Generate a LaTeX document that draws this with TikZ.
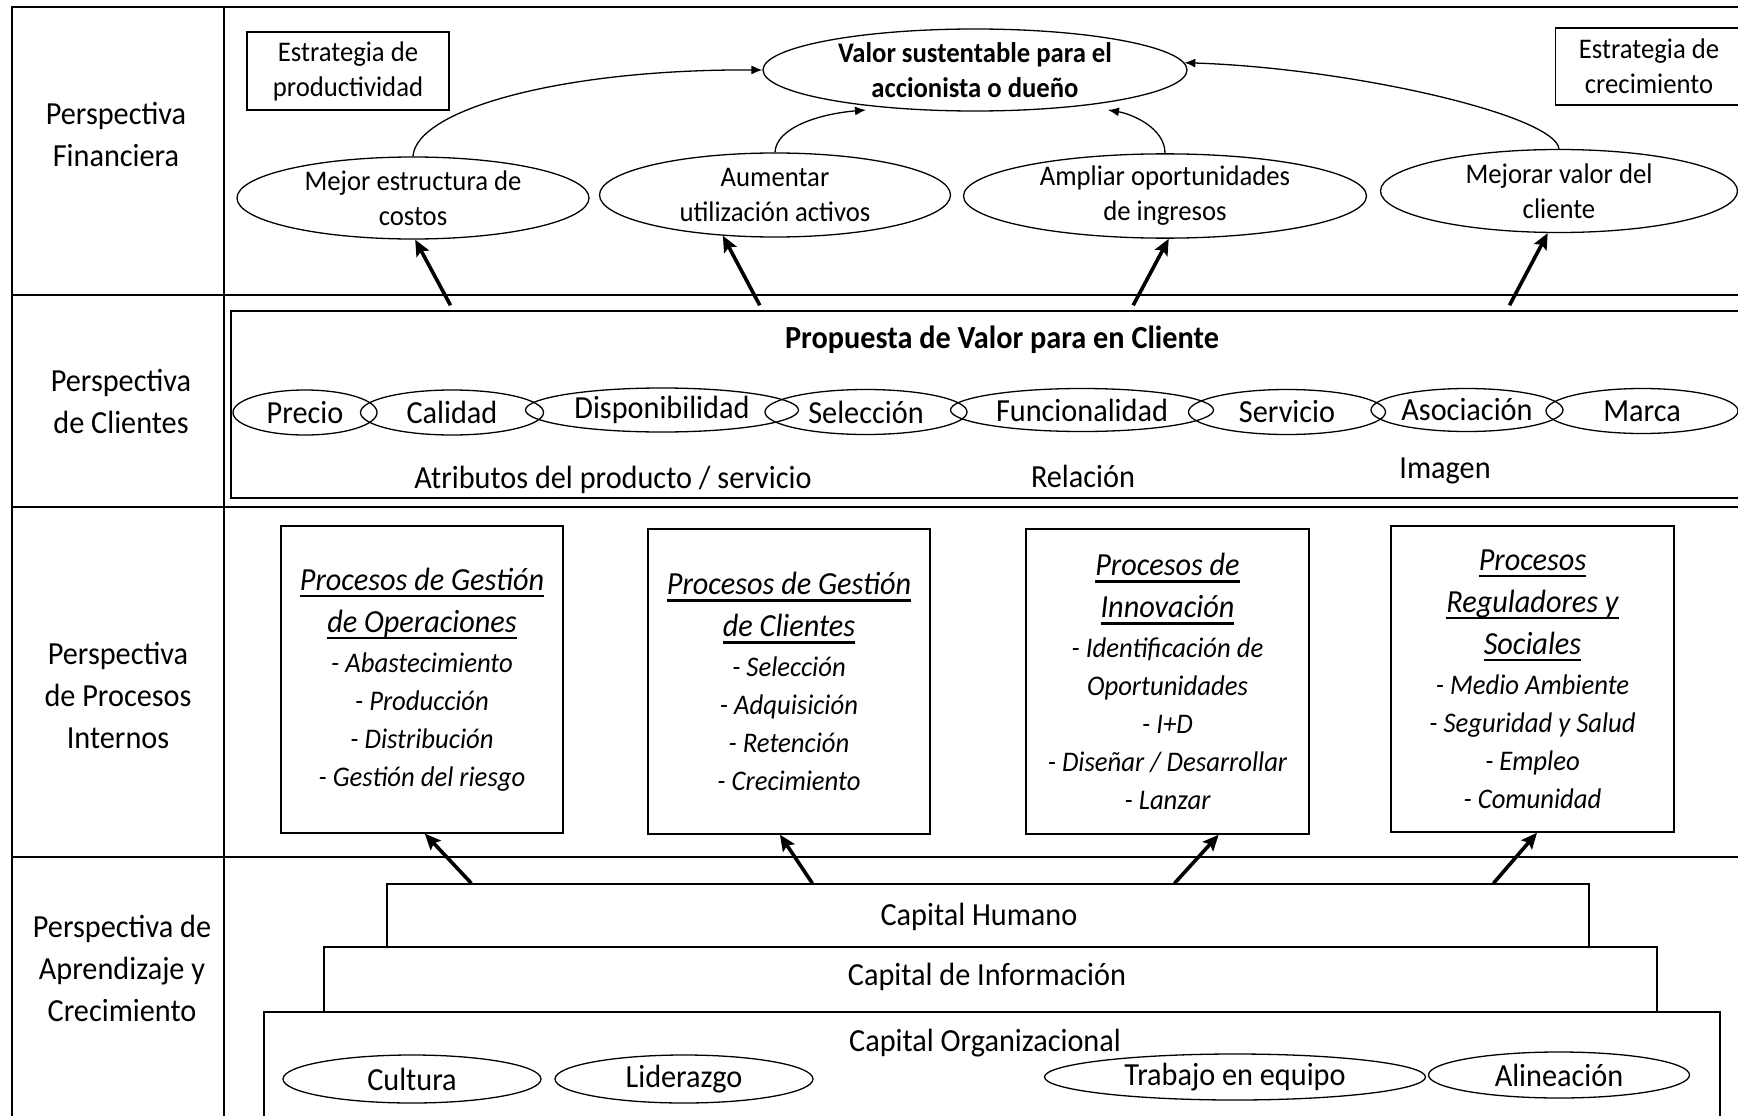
\documentclass[tikz,border=0pt]{standalone}
\usepackage{fontspec}
\setmainfont{Carlito}[FakeStretch=0.94]
\usetikzlibrary{shapes.geometric,arrows.meta,calc}
\newcommand{\fntS}{\fontsize{28.4}{35}\selectfont}
\newcommand{\fntL}{\fontsize{32.2}{42}\selectfont}
\newcommand{\fntI}{\fontsize{28.4}{38}\selectfont\itshape}
\newcommand{\ulx}[1]{{\setbox0\hbox{#1}\rlap{\rule[-7pt]{\wd0}{2.6pt}}\box0}}
\begin{document}
\begin{tikzpicture}[x=1pt,y=-1pt,
  frameline/.style={line width=1.6pt},
  ell/.style={ellipse, draw, line width=1.3pt, inner sep=0pt, align=center},
  bx/.style={rectangle, draw, line width=1.4pt, inner sep=0pt, align=center},
  lbl/.style={align=center, font=\fntL},
  tarr/.style={line width=3.6pt, -{Stealth[length=16pt,width=14pt,inset=3pt]}},
  carr/.style={line width=1.3pt, -{Latex[length=11pt,width=9pt]}},
]
\useasboundingbox (0,0) rectangle (1738,1116);
\clip (0,0) rectangle (1738,1116);
% frame
\draw[frameline] (12,1130) -- (12,7) -- (1750,7);
\draw[frameline] (224,7) -- (224,1130);
\draw[frameline] (12,295) -- (1750,295);
\draw[frameline] (12,507) -- (1750,507);
\draw[frameline] (12,857) -- (1750,857);
% perspective labels
\node[lbl] (pfin) at (116,134) {Perspectiva\\Financiera};
\node[lbl] (pcli) at (121,401) {Perspectiva\\de Clientes};
\node[lbl] (ppro) at (118,695) {Perspectiva\\de Procesos\\Internos};
\node[lbl] (papr) at (122,968) {Perspectiva de\\Aprendizaje y\\Crecimiento};
% financial
\node[bx, font=\fntS, minimum width=202pt, minimum height=78pt] (prod) at (348,71) {Estrategia de\\productividad};
\node[bx, font=\fntS, minimum width=187pt, minimum height=77pt] (crec) at (1649,66.5) {Estrategia de\\crecimiento};
\node[ell, font=\fntS\bfseries, minimum width=424pt, minimum height=82pt] (valor) at (975,70) {Valor sustentable para el\\accionista o dueño};
\node[ell, font=\fntS, minimum width=352pt, minimum height=82pt] (mec) at (413,198) {Mejor estructura de\\costos};
\node[ell, font=\fntS, minimum width=351pt, minimum height=84pt] (aum) at (775,195) {Aumentar\\utilización activos};
\node[ell, font=\fntS, minimum width=403pt, minimum height=83pt] (amp) at (1165,196) {Ampliar oportunidades\\de ingresos};
\node[ell, font=\fntS, minimum width=357pt, minimum height=83pt] (mej) at (1559,191) {Mejorar valor del\\cliente};
\draw[carr] (mec.north) .. controls (416,110) and (560,69) .. (valor.west);
\draw[carr] (aum.north) .. controls (776,128) and (818,114) .. ($(valor.center)+(-109,40)$);
\draw[carr] (amp.north) .. controls (1165,128) and (1132,114) .. ($(valor.center)+(133,40)$);
\draw[carr] (mej.north) .. controls (1555,115) and (1350,68) .. (valor.2);
% clients
\node[bx, minimum width=1514pt, minimum height=187pt] (clbox) at (988,404.5) {};
\node[font=\fntL\bfseries] (prop) at (1002,340) {Propuesta de Valor para en Cliente};
\node[ell, font=\fntL, minimum width=144pt, minimum height=45pt] (e1) at (305,412.5) {Precio};
\node[ell, font=\fntL, minimum width=183pt, minimum height=45pt] (e2) at (452,412.5) {Calidad};
\node[ell, font=\fntL, minimum width=273pt, minimum height=44pt] (e3) at (662,410) {Disponibilidad};
\node[ell, font=\fntL, minimum width=202pt, minimum height=45pt] (e4) at (866,412) {Selección};
\node[ell, font=\fntL, minimum width=263pt, minimum height=43pt] (e5) at (1082,410) {Funcionalidad};
\node[ell, font=\fntL, minimum width=197pt, minimum height=45pt] (e6) at (1287,412) {Servicio};
\node[ell, font=\fntL, minimum width=192pt, minimum height=43pt] (e7) at (1467,410) {Asociación};
\node[ell, font=\fntL, minimum width=192pt, minimum height=45pt] (e8) at (1642,411) {Marca};
\node[font=\fntL] (atr) at (613,480) {Atributos del producto / servicio};
\node[font=\fntL] (rel) at (1083,476) {Relación};
\node[font=\fntL] (img) at (1445,471) {Imagen};
\coordinate (t1) at ($(clbox.north west)!0.1453!(clbox.north east)+(0,-5)$);
\coordinate (t2) at ($(clbox.north west)!0.3494!(clbox.north east)+(0,-5)$);
\coordinate (t3) at ($(clbox.north west)!0.5958!(clbox.north east)+(0,-5)$);
\coordinate (t4) at ($(clbox.north west)!0.8441!(clbox.north east)+(0,-5)$);
\draw[tarr] (t1) -- (mec.273);
\draw[tarr] (t2) -- (aum.218);
\draw[tarr] (t3) -- (amp.275);
\draw[tarr] (t4) -- (mej.255);
% processes
\node[bx, font=\fntI, minimum width=282pt, minimum height=307pt] (b1) at (422,679.5)
  {{\fntL\ulx{Procesos de Gestión}}\\[4pt]{\fntL\ulx{de Operaciones}}\\[2pt]- Abastecimiento\\- Producción\\- Distribución\\- Gestión del riesgo};
\node[bx, font=\fntI, minimum width=282pt, minimum height=305pt] (b2) at (789,681.5)
  {{\fntL\ulx{Procesos de Gestión}}\\[4pt]{\fntL\ulx{de Clientes}}\\[2pt]- Selección\\- Adquisición\\- Retención\\- Crecimiento};
\node[bx, font=\fntI, minimum width=283pt, minimum height=305pt] (b3) at (1167.5,681.5)
  {{\fntL\ulx{Procesos de}}\\[4pt]{\fntL\ulx{Innovación}}\\[2pt]- Identificación de\\Oportunidades\\- I+D\\- Diseñar / Desarrollar\\- Lanzar};
\node[bx, font=\fntI, minimum width=283pt, minimum height=306pt] (b4) at (1532.5,679)
  {{\fntL\ulx{Procesos}}\\[4pt]{\fntL\ulx{Reguladores y}}\\[4pt]{\fntL\ulx{Sociales}}\\[2pt]- Medio Ambiente\\- Seguridad y Salud\\- Empleo\\- Comunidad};
% learning
\node[bx, minimum width=1456pt, minimum height=130pt] (co) at (992,1077) {};
\node[bx, minimum width=1333pt, minimum height=65pt] (ci) at (990.5,979.5) {};
\node[bx, minimum width=1202pt, minimum height=63pt] (ch) at (988,915.5) {};
\node[font=\fntL] (chl) at (979,917) {Capital Humano};
\node[font=\fntL] (cil) at (987,977) {Capital de Información};
\node[font=\fntL] (col) at (985,1043) {Capital Organizacional};
\node[ell, font=\fntL, minimum width=258pt, minimum height=48pt] (cu) at (412,1079) {Cultura};
\node[ell, font=\fntL, minimum width=258pt, minimum height=48pt] (li) at (684,1079) {Liderazgo};
\node[ell, font=\fntL, minimum width=381pt, minimum height=46pt] (te) at (1235,1077) {Trabajo en equipo};
\node[ell, font=\fntL, minimum width=261pt, minimum height=46pt] (al) at (1559,1075) {Alineación};
\coordinate (s1) at ($(ch.north west)!0.0707!(ch.north east)$);
\coordinate (s2) at ($(ch.north west)!0.354!(ch.north east)$);
\coordinate (s3) at ($(ch.north west)!0.655!(ch.north east)$);
\coordinate (s4) at ($(ch.north west)!0.920!(ch.north east)$);
\draw[tarr] (s1) -- ($(b1.south west)!0.51!(b1.south east)$);
\draw[tarr] (s2) -- ($(b2.south west)!0.468!(b2.south east)$);
\draw[tarr] (s3) -- ($(b3.south west)!0.68!(b3.south east)$);
\draw[tarr] (s4) -- ($(b4.south west)!0.516!(b4.south east)$);
\end{tikzpicture}
\end{document}
